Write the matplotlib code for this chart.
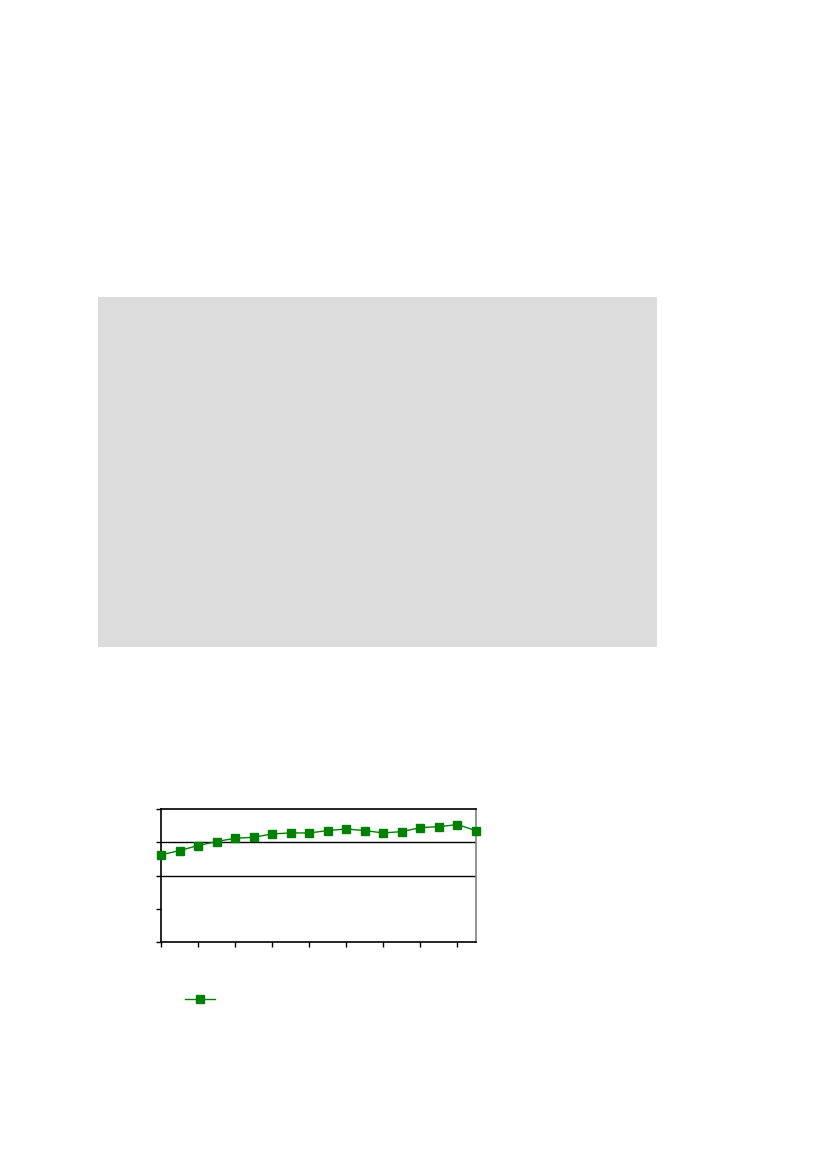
import matplotlib
matplotlib.use("Agg")
import matplotlib.pyplot as plt
from matplotlib.patches import Rectangle

# one series, 18 points, no labels anywhere in the picture
points = list(range(18))
values = [2.62, 2.75, 2.90, 3.02, 3.12, 3.15, 3.25, 3.28, 3.28,
          3.35, 3.40, 3.35, 3.28, 3.32, 3.44, 3.47, 3.53, 3.35]
y_ticks = [0, 1, 2, 3, 4]
x_ticks = [0, 2, 4, 6, 8, 10, 12, 14, 16]
grid_levels = [2, 3]

fig = plt.figure(figsize=(8.27, 11.69), dpi=100)

# grey block in the middle of the page
fig.patches.append(Rectangle((98/827, 1-647/1169), 559/827, 350/1169,
                             transform=fig.transFigure, facecolor="#dcdcdc",
                             edgecolor="none", zorder=0))

ax = fig.add_axes([161/827, 1-942/1169, 315/827, 133/1169])
for lvl in grid_levels:
    ax.axhline(lvl, color="black", lw=1, zorder=1)
line, = ax.plot(points, values, color="#008000", lw=1, marker="s",
                markersize=5.5, markeredgecolor="#008000", zorder=3,
                clip_on=False)
ax.set_xlim(0, 17)
ax.set_ylim(0, 4)
ax.set_xticks(x_ticks)
ax.set_yticks(y_ticks)
ax.set_xticklabels([])
ax.set_yticklabels([])
ax.tick_params(axis="both", direction="out", length=3.5, width=1, color="black")
for side in ["left", "bottom", "top"]:
    ax.spines[side].set_color("black")
    ax.spines[side].set_linewidth(1.2)
ax.spines["right"].set_color("#808080")
ax.spines["right"].set_linewidth(1.2)

fig.legend(handles=[line], labels=[""], loc="center",
           bbox_to_anchor=(200/827, 1-1000/1169), frameon=False,
           handlelength=2.1, handletextpad=0, borderpad=0)

fig.savefig("out.png", dpi=100)
